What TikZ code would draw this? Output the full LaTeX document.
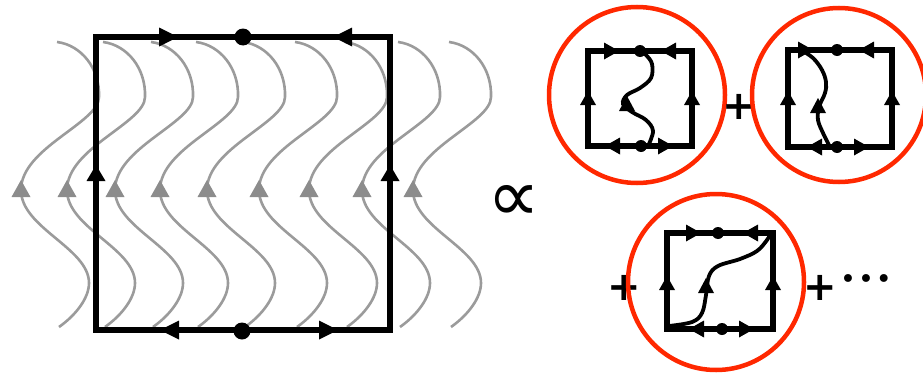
\documentclass[tikz,border=0pt]{standalone}
\usepackage{fontspec}
\newfontfamily\symfont{DejaVu Sans}
\newfontfamily\symbold{DejaVu Sans Bold}
\definecolor{wavegray}{RGB}{155,155,155}
\definecolor{trigray}{RGB}{140,140,140}
\definecolor{ringred}{RGB}{255,40,0}
\tikzset{
  wave/.style={draw=wavegray, line width=2.6pt},
  frame/.style={draw=black, line width=5.5pt},
  minibox/.style={draw=black, line width=6pt},
  strand/.style={draw=black, line width=3.8pt},
  ring/.style={draw=ringred, line width=4.5pt},
  sym/.style={inner sep=0pt, font=\symbold\fontsize{40}{44}\selectfont},
  propsym/.style={inner sep=0pt, font=\symfont\fontsize{74}{76}\selectfont},
  dotsym/.style={inner sep=0pt, font=\symfont\fontsize{27}{30}\selectfont},
  wavepic/.pic={
    \draw[wave] (36,-151) .. controls (60,-148) and (79,-125) .. (78,-96)
      .. controls (78,-70) and (0,-45) .. (0,-3)
      .. controls (0,35) and (68,55) .. (68,90)
      .. controls (68,105) and (55,122) .. (38,134);
    \fill[trigray] (0,-13) -- (9.5,4) -- (-9.5,4) -- cycle;
  }
}
\begin{document}
\begin{tikzpicture}[x=1pt,y=-1pt]
\useasboundingbox (0,0) rectangle (923,372);
% gray waves
\foreach \xt in {21,67,115,160,207,259,309,362,413}
  \pic at (\xt,193) {wavepic};
% main box
\coordinate (mTL) at (96,37);
\coordinate (mBR) at (390,330);
\draw[frame] (mTL) rectangle (mBR);
\fill (178,37) -- (159,27.5) -- (159,46.5) -- cycle;
\fill (333,37) -- (352,27.5) -- (352,46.5) -- cycle;
\fill (243,37) circle[radius=8.5pt];
\fill (160,330) -- (179,320.5) -- (179,339.5) -- cycle;
\fill (242,331) circle[radius=8.5pt];
\fill (338,330) -- (319,320.5) -- (319,339.5) -- cycle;
\fill (96,165) -- (86.5,181) -- (105.5,181) -- cycle;
\fill (390,165) -- (380.5,181) -- (399.5,181) -- cycle;
% proportional sign
\node[propsym] (prop) at (514,203) {∝};
% circle 1
\draw[ring] (637,95) circle[radius=88pt];
\draw[minibox] (588,51) rectangle (692,146);
\fill (619,51) -- (604,42.5) -- (604,59.5) -- cycle;
\fill (640,51) circle[radius=6pt];
\fill (661,51) -- (676,42.5) -- (676,59.5) -- cycle;
\fill (605,146) -- (620,137.5) -- (620,154.5) -- cycle;
\fill (641,146) circle[radius=6pt];
\fill (673,146) -- (658,137.5) -- (658,154.5) -- cycle;
\fill (588,91) -- (580,105) -- (596,105) -- cycle;
\fill (692,91) -- (684,105) -- (700,105) -- cycle;
\draw[strand] plot[smooth, tension=0.6] coordinates {(648,146) (653,131) (646,120) (632,112) (623,104) (627,95) (640,88) (651,78) (652,64) (646,55) (640,51)};
\fill (627,96) -- (619,111) -- (635,111) -- cycle;
% plus
\node[sym] (plusA) at (739,107) {+};
% circle 2
\draw[ring] (839,95) circle[radius=87pt];
\draw[minibox] (788,50) rectangle (892,147);
\fill (813,50) -- (798,41.5) -- (798,58.5) -- cycle;
\fill (837,50) circle[radius=6pt];
\fill (859,50) -- (874,41.5) -- (874,58.5) -- cycle;
\fill (807,147) -- (822,138.5) -- (822,155.5) -- cycle;
\fill (837,147) circle[radius=6pt];
\fill (869,147) -- (854,138.5) -- (854,155.5) -- cycle;
\fill (788,91) -- (780,105) -- (796,105) -- cycle;
\fill (892,91) -- (884,105) -- (900,105) -- cycle;
\draw[strand] plot[smooth, tension=0.6] coordinates {(830,147) (823,133) (818,120) (819,107) (825,93) (826,82) (822,70) (813,58) (801,50)};
\fill (818,98) -- (810,113) -- (826,113) -- cycle;
% second row
\node[sym] (plusB) at (624,288) {+};
\draw[ring] (716,282) circle[radius=88pt];
\draw[minibox] (667,233) rectangle (773,329);
\fill (701,233) -- (686,224.5) -- (686,241.5) -- cycle;
\fill (718,233) circle[radius=6pt];
\fill (743,233) -- (758,224.5) -- (758,241.5) -- cycle;
\fill (689,329) -- (704,320.5) -- (704,337.5) -- cycle;
\fill (722,329) circle[radius=6pt];
\fill (754,329) -- (739,320.5) -- (739,337.5) -- cycle;
\fill (667,276) -- (659,290) -- (675,290) -- cycle;
\fill (773,276) -- (765,290) -- (781,290) -- cycle;
\draw[strand] plot[smooth, tension=0.6] coordinates {(669,326) (692,322) (702,313) (706,295) (709,276) (718,266) (740,259) (757,251) (767,240) (771,233)};
\fill (706,278) -- (698,293) -- (714,293) -- cycle;
\node[sym] (plusC) at (820,288) {+};
\node[dotsym] (etc) at (866,282) {•\hspace{2pt}•\hspace{2pt}•};
\end{tikzpicture}
\end{document}
